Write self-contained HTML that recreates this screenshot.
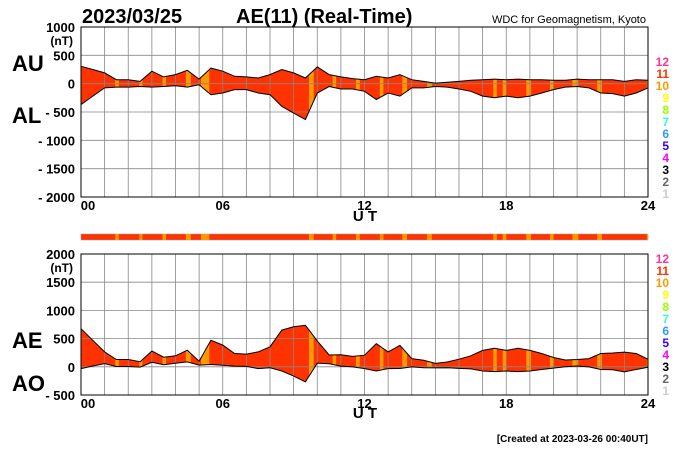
<!DOCTYPE html>
<html><head><meta charset="utf-8">
<style>
body{margin:0;background:#fff;}
svg{display:block;font-family:"Liberation Sans",sans-serif;}
</style></head>
<body>
<svg id="c" width="700" height="450" viewBox="0 0 700 450" xmlns="http://www.w3.org/2000/svg">
<text x="82" y="23" font-size="20" font-weight="bold">2023/03/25</text>
<text x="236" y="23" font-size="20" font-weight="bold">AE(11) (Real-Time)</text>
<text x="646" y="23" font-size="11" text-anchor="end">WDC for Geomagnetism, Kyoto</text>
<text x="12" y="71" font-size="22" font-weight="bold">AU</text>
<text x="12" y="123" font-size="22" font-weight="bold">AL</text>
<text x="12" y="348" font-size="22" font-weight="bold">AE</text>
<text x="12" y="391" font-size="22" font-weight="bold">AO</text>
<text x="365" y="221" font-size="15" font-weight="bold" text-anchor="middle">U T</text>
<text x="365" y="418" font-size="15" font-weight="bold" text-anchor="middle">U T</text>
<text x="648" y="442" font-size="10" font-weight="bold" text-anchor="end">[Created at 2023-03-26 00:40UT]</text>
<g id="layer"></g>
</svg>
<script>
const hours=[0,0.5,1,1.5,2,2.5,3,3.5,4,4.5,5,5.5,6,6.5,7,7.5,8,8.5,9,9.5,10,10.5,11,11.5,12,12.5,13,13.5,14,14.5,15,15.5,16,16.5,17,17.5,18,18.5,19,19.5,20,20.5,21,21.5,22,22.5,23,23.5,24];
const auValues=[306,250,190,70,70,40,220,120,160,235,80,275,220,130,120,100,160,250,190,100,295,160,120,90,70,130,100,160,70,40,10,25,40,60,70,80,70,80,70,70,60,60,80,70,70,70,40,70,60];
const alValues=[-370,-220,-75,-60,-60,-50,-60,-50,-35,-60,-20,-195,-165,-105,-105,-165,-195,-400,-520,-635,-165,-50,-95,-95,-135,-280,-165,-220,-75,-75,-50,-60,-95,-135,-220,-250,-220,-250,-220,-165,-105,-60,-50,-75,-165,-175,-220,-165,-75];
const stripeStarts=[1.45,2.47,3.45,4.44,5.08,9.65,10.65,11.64,12.65,13.6,14.65,17.45,17.85,18.85,19.85,20.8,21.85,23.95];
const stripeEnds=[1.6,2.6,3.6,4.65,5.43,9.85,10.8,11.8,12.8,13.8,14.85,17.6,18.0,19.05,20.0,21.05,22.05,24];
const topTicks=[1000,500,0,-500,-1000,-1500,-2000];
const botTicks=[2000,1500,1000,500,0,-500];
const xTickLabels=["00","06","12","18","24"];
const legendLabels=["12","11","10","9","8","7","6","5","4","3","2","1"];
const legendColors=["#ff3399","#ff3300","#ff9900","#ffff00","#99ff00","#33ffcc","#3399ff","#3300ff","#ff00ff","#000000","#666666","#cccccc"];

const NS="http://www.w3.org/2000/svg";
const L=document.getElementById('layer');
function mk(t,a,p){const e=document.createElementNS(NS,t);for(const k in a)e.setAttribute(k,a[k]);(p||L).appendChild(e);return e;}
const X0=81,X1=648;
const xs=h=>X0+(X1-X0)*h/24;
const yTop=v=>27+(1000-v)*(170/3000);
const yBot=v=>254+(2000-v)*(141/2500);
const aeValues=auValues.map((u,i)=>u-alValues[i]);
const aoValues=auValues.map((u,i)=>(u+alValues[i])/2);

function panel(ys,yMin,yMax,ticks,upper,lower,nm,legY){
  const g=mk('g',{});
  
  
  const y0=ys(yMax),y1=ys(yMin);
  const cid='clip-'+nm;
  const cp=mk('clipPath',{id:cid},g);
  let d='';
  hours.forEach((h,i)=>{d+=(i?'L':'M')+xs(h).toFixed(1)+','+ys(upper[i]).toFixed(1);});
  for(let i=hours.length-1;i>=0;i--)d+='L'+xs(hours[i]).toFixed(1)+','+ys(lower[i]).toFixed(1);
  d+='Z';
  mk('path',{d:d},cp);
  const fg=mk('g',{'clip-path':'url(#'+cid+')'},g);
  const f=mk('rect',{x:X0,y:y0,width:X1-X0,height:y1-y0,fill:'#ff3300'},fg);
  
  
  stripeStarts.forEach((s,i)=>{
    const r=mk('rect',{x:xs(s),y:y0,width:xs(stripeEnds[i])-xs(s),height:y1-y0,fill:'#ff9900'},fg);
    
    
  });
  for(let h=1;h<24;h++)mk('line',{x1:xs(h),x2:xs(h),y1:y0,y2:y1,stroke:'#888','stroke-width':0.8},g);
  ticks.forEach(t=>{mk('line',{x1:X0,x2:X1,y1:ys(t),y2:ys(t),stroke:'#888','stroke-width':0.8},g);
    const lb=mk('text',{x:75,y:ys(t)+5,'font-size':13,'font-weight':'bold','text-anchor':'end'},g);
    lb.textContent=t<0?'- '+(-t):String(t);
    
    
  });
  const nt=mk('text',{x:73,y:ys(ticks[0])+18,'font-size':12,'font-weight':'bold','text-anchor':'end'},g);nt.textContent='(nT)';
  
  
  [upper,lower].forEach((arr,k)=>{
    let p='';hours.forEach((h,i)=>{p+=(i?'L':'M')+xs(h).toFixed(1)+','+ys(arr[i]).toFixed(1);});
    const ln=mk('path',{d:p,fill:'none',stroke:'#000','stroke-width':1},g);
    
    
  });
  mk('rect',{x:X0,y:y0,width:X1-X0,height:y1-y0,fill:'none',stroke:'#000','stroke-width':1},g);
  xTickLabels.forEach((s,i)=>{const t=mk('text',{x:xs(i*6)+(i==0?7:0),y:y1+13,'font-size':13,'font-weight':'bold','text-anchor':'middle'},g);t.textContent=s;
    
    });
  legendLabels.forEach((s,i)=>{const t=mk('text',{x:669,y:legY+i*12,'font-size':12,'font-weight':'bold','text-anchor':'end',fill:legendColors[i]},g);t.textContent=s;
    
    });
}
panel(yTop,-2000,1000,topTicks,auValues,alValues,'au-al',66);
panel(yBot,-500,2000,botTicks,aeValues,aoValues,'ae-ao',263);
const bar=mk('rect',{x:X0,y:234,width:X1-X0,height:6,fill:'#ff3300',stroke:'#999','stroke-width':0.5});


stripeStarts.forEach((s,i)=>{const r=mk('rect',{x:xs(s),y:234,width:xs(stripeEnds[i])-xs(s),height:6,fill:'#ff9900'});
  
  });
</script>
</body></html>
